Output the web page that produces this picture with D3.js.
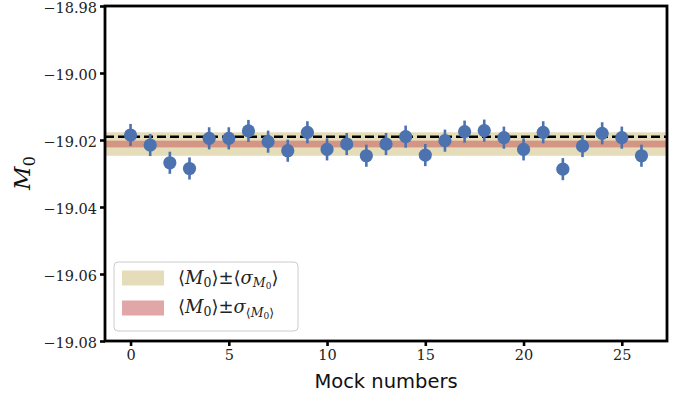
<!DOCTYPE html>
<html><head><meta charset="utf-8">
<script src="https://cdn.jsdelivr.net/npm/d3@7"></script>
<style>body{margin:0;background:#fff}svg{display:block}</style>
</head><body><svg id="c" width="686" height="399"></svg>
<script>
const mocks = [0,1,2,3,4,5,6,7,8,9,10,11,12,13,14,15,16,17,18,19,20,21,22,23,24,25,26];
const m0 = [-19.0185,-19.0215,-19.0268,-19.0285,-19.0195,-19.0195,-19.0173,-19.0205,-19.0232,-19.0177,-19.0228,-19.0212,-19.0247,-19.0212,-19.0190,-19.0245,-19.0202,-19.0175,-19.0172,-19.0193,-19.0228,-19.0177,-19.0287,-19.0218,-19.0180,-19.0193,-19.0247];
const m0err = [0.0033,0.0033,0.0033,0.0033,0.0033,0.0033,0.0033,0.0033,0.0033,0.0033,0.0033,0.0033,0.0033,0.0033,0.0033,0.0033,0.0033,0.0033,0.0033,0.0033,0.0033,0.0033,0.0033,0.0033,0.0033,0.0033,0.0033];
const truthM0 = -19.019;
const meanM0 = -19.0212;
const meanSigma = 0.0035;
const sigmaMean = 0.001;
const yTicks = [-18.98,-19.00,-19.02,-19.04,-19.06,-19.08];
const xTicks = [0,5,10,15,20,25];

const L=105,R=667,T=6,B=341;
const svg=d3.select("#c");
const x=d3.scaleLinear().domain([-1.3,27.3]).range([L,R]);
const y=d3.scaleLinear().domain([-19.08,-18.98]).range([B,T]);
const blue="#4C72B0";

// bands
svg.append("rect").attr("x",L).attr("width",R-L)
  .attr("y",y(meanM0+meanSigma)).attr("height",y(meanM0-meanSigma)-y(meanM0+meanSigma))
  .attr("fill","#CCB974").attr("fill-opacity",0.5);
svg.append("rect").attr("x",L).attr("width",R-L)
  .attr("y",y(meanM0+sigmaMean)).attr("height",y(meanM0-sigmaMean)-y(meanM0+sigmaMean))
  .attr("fill","#C44E52").attr("fill-opacity",0.5);
// truth
svg.append("line").attr("x1",L).attr("x2",R).attr("y1",y(truthM0)).attr("y2",y(truthM0))
  .attr("stroke","#000").attr("stroke-width",2.5).attr("stroke-dasharray","9,4");

// error bars
const g=svg.append("g");
g.selectAll("line.e").data(mocks).join("line").attr("class","e")
  .attr("x1",d=>x(d)).attr("x2",d=>x(d))
  .attr("y1",(d,i)=>y(m0[i]+m0err[i])).attr("y2",(d,i)=>y(m0[i]-m0err[i]))
  .attr("stroke",blue).attr("stroke-width",2.6);
g.selectAll("circle").data(mocks).join("circle")
  .attr("cx",d=>x(d)).attr("cy",(d,i)=>y(m0[i])).attr("r",6.6).attr("fill",blue);

// frame
svg.append("rect").attr("x",L).attr("y",T).attr("width",R-L).attr("height",B-T)
  .attr("fill","none").attr("stroke","#000").attr("stroke-width",2.8);

// axes
const tickFont='"DejaVu Serif", serif';
const ya=svg.append("g").attr("transform",`translate(${L},0)`)
  .call(d3.axisLeft(y).tickValues(yTicks).tickSize(5).tickPadding(3).tickFormat(d=>d3.format(".2f")(d).replace("-","\u2212")));
const xa=svg.append("g").attr("transform",`translate(0,${B})`)
  .call(d3.axisBottom(x).tickValues(xTicks).tickSize(5).tickPadding(4).tickFormat(d3.format("d")));
[ya,xa].forEach(a=>{
  a.select(".domain").remove();
  a.selectAll(".tick line").attr("stroke","#000").attr("stroke-width",2.6);
  a.selectAll(".tick text").attr("fill","#222").style("font-family",tickFont).style("font-size","14.5px");
});
ya.selectAll(".tick text").attr("dy","0.45em");

// axis labels
svg.append("text").attr("x",(L+R)/2).attr("y",388).attr("text-anchor","middle")
  .style("font-family",'"DejaVu Sans", sans-serif').style("font-size","19.5px").attr("fill","#111")
  .text("Mock numbers");
const yl=svg.append("text").attr("transform","translate(30,173) rotate(-90)").attr("text-anchor","middle")
  .style("font-family",'"DejaVu Serif", serif').style("font-size","23px").attr("fill","#111");
yl.append("tspan").style("font-style","italic").text("M");
yl.append("tspan").attr("dy",5).style("font-size","16px").text("0");

// legend
const lg=svg.append("g");
lg.append("rect").attr("x",114).attr("y",262).attr("width",184).attr("height",69).attr("rx",4)
  .attr("fill","#fff").attr("fill-opacity",0.8).attr("stroke","#ccc").attr("stroke-width",1);
lg.append("rect").attr("x",122).attr("y",270.5).attr("width",42).attr("height",15)
  .attr("fill","#CCB974").attr("fill-opacity",0.5);
lg.append("rect").attr("x",122).attr("y",300.5).attr("width",42).attr("height",15)
  .attr("fill","#C44E52").attr("fill-opacity",0.5);
const lf='"DejaVu Serif", serif';
function leg(yb, second){
  const t=lg.append("text").attr("x",178).attr("y",yb).style("font-family",lf).style("font-size","18px").attr("fill","#222");
  t.append("tspan").text("\u27E8");
  t.append("tspan").style("font-style","italic").text("M");
  t.append("tspan").attr("dy",3).style("font-size","12.5px").text("0");
  t.append("tspan").attr("dy",-3).text("\u27E9\u00B1");
  if(!second){
    t.append("tspan").text("\u27E8");
    t.append("tspan").style("font-style","italic").text("\u03C3");
    t.append("tspan").attr("dy",3).style("font-size","12.5px").style("font-style","italic").text("M");
    t.append("tspan").attr("dy",2).style("font-size","9px").text("0");
    t.append("tspan").attr("dy",-5).text("\u27E9");
  } else {
    t.append("tspan").style("font-style","italic").text("\u03C3");
    t.append("tspan").attr("dy",4).style("font-size","12.5px").text("\u27E8");
    t.append("tspan").style("font-size","12.5px").style("font-style","italic").text("M");
    t.append("tspan").attr("dy",2).style("font-size","9px").text("0");
    t.append("tspan").attr("dy",-2).style("font-size","12.5px").text("\u27E9");
  }
}
leg(284,false);
leg(313,true);
</script></body></html>
